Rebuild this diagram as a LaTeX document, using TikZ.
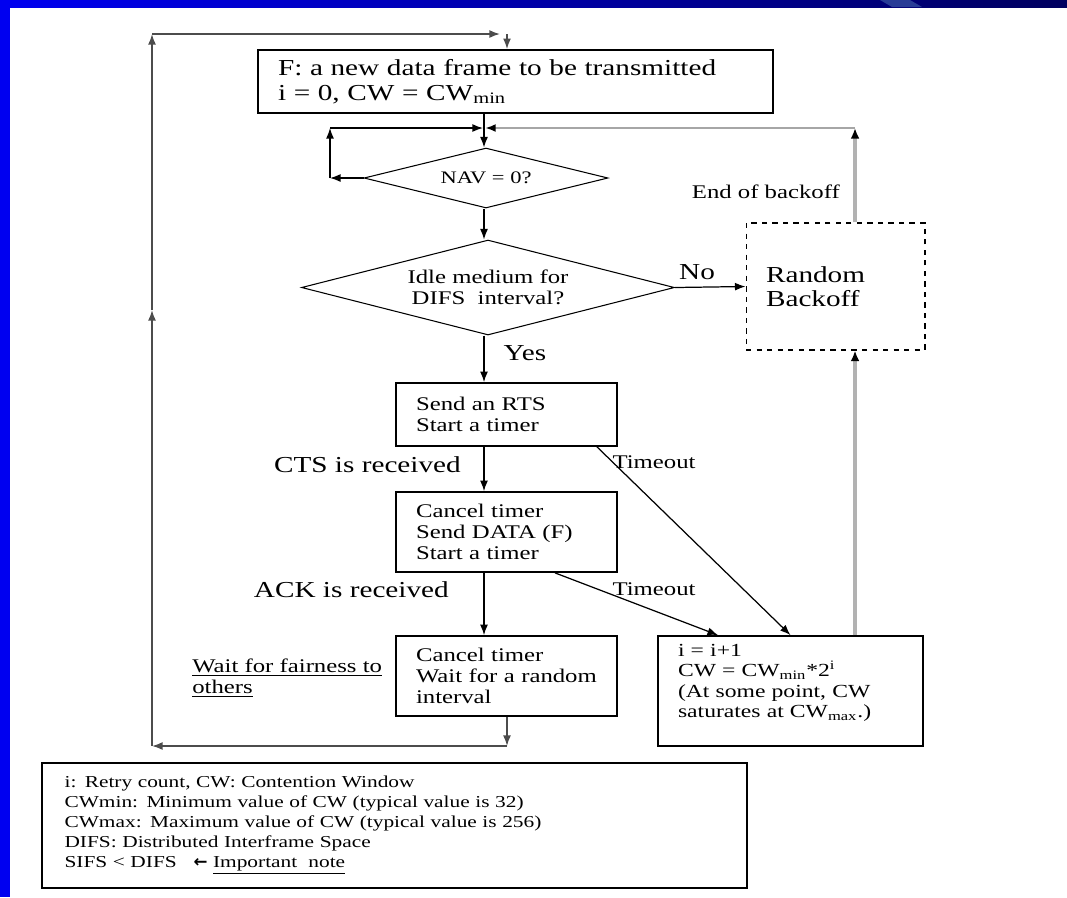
\documentclass[tikz,border=0pt]{standalone}
\usepackage{fontspec}
\setmainfont{Liberation Serif}[FakeStretch=1.28]
\newfontfamily\arrowfont{DejaVu Sans}
\usetikzlibrary{shapes, arrows.meta}

\definecolor{slideblue}{RGB}{0,0,240}
\definecolor{slidenavy}{RGB}{0,0,95}
\definecolor{slidestripe}{RGB}{40,60,150}

\begin{document}
\begin{tikzpicture}[x=0.02cm, y=-0.02cm, >={Latex[length=6pt,width=4.5pt]}]
    \tikzstyle{box}=[draw, line width=1pt, rectangle, align=left, inner xsep=0.4cm, inner ysep=0pt]
    \tikzstyle{dia}=[draw, diamond, line width=0.6pt, inner sep=0pt, align=center]
    \tikzstyle{e}=[->, line width=0.7pt]
    \tikzstyle{loopline}=[->, black!70, line width=0.9pt]
    \tikzstyle{backline}=[-{Latex[length=6pt,width=5pt,color=black]}, black!30, line width=2.4pt]
    \tikzstyle{backthin}=[-{Latex[length=6pt,width=4.5pt,color=black]}, black!35, line width=1.2pt]
    \tikzstyle{big}=[font=\fontsize{13}{14}\selectfont]
    \tikzstyle{small}=[font=\fontsize{11}{12}\selectfont]

    \useasboundingbox (0,0) rectangle (1067,897);

    % slide frame
    \fill[white] (0,0) rectangle (1067,897);
    \shade[left color=slideblue, right color=slidenavy] (0,0) rectangle (1067,7);
    \fill[slidestripe] (880,0) -- (910,0) -- (922,7) -- (892,7) -- cycle;
    \fill[slideblue] (0,0) rectangle (10,897);

    % boxes and tests
    \node[box, big, minimum width=10.3cm, minimum height=1.26cm, text width=9.5cm] (frame) at (515.5,81.5)
        {F: a new data frame to be transmitted\\ i = 0, CW = CW\textsubscript{min}};
    \node[dia, font=\fontsize{10}{11}\selectfont, aspect=4.07, minimum width=4.88cm, minimum height=1.2cm] (nav) at (486,178) {NAV = 0?};
    \node[dia, small, aspect=3.93, minimum width=7.46cm, minimum height=1.9cm] (idle) at (488,287.5)
        {Idle medium for\\ DIFS\ \ interval?};
    \node[box, big, dashed, line width=0.6pt, minimum width=3.58cm, minimum height=2.54cm, text width=2.78cm] (backoff) at (835.5,286.5)
        {Random\\ Backoff};
    \node[box, small, minimum width=4.42cm, minimum height=1.26cm, text width=3.62cm] (rts) at (506.5,414.5)
        {Send an RTS\\ Start a timer};
    \node[box, small, minimum width=4.42cm, minimum height=1.6cm, text width=3.62cm] (cancel) at (506.5,532)
        {Cancel timer\\ Send DATA (F)\\ Start a timer};
    \node[box, small, minimum width=4.42cm, minimum height=1.6cm, text width=3.62cm] (wait) at (506.5,676)
        {Cancel timer\\ Wait for a random\\ interval};
    \node[box, font=\fontsize{10.5}{11.6}\selectfont, minimum width=5.3cm, minimum height=2.2cm, text width=4.5cm] (cw) at (790.5,691)
        {i = i+1\\ CW = CW\textsubscript{min}*2\textsuperscript{i}\\ (At some point, CW\\ saturates at CW\textsubscript{max}.)\\ \mbox{}};
    \node[small, anchor=west, align=left, inner sep=0pt] (fair) at (192,678)
        {\underline{Wait for fairness to}\\ \underline{others}};
    \node[box, font=\fontsize{9.5}{11.4}\selectfont, inner xsep=0.45cm, minimum width=14.1cm, minimum height=2.5cm, text width=13.2cm] (legend) at (394.5,825.5)
        {i: Retry count, CW: Contention Window\\
         CWmin: Minimum value of CW (typical value is 32)\\
         CWmax: Maximum value of CW (typical value is 256)\\
         DIFS: Distributed Interframe Space\\
         SIFS < DIFS\quad{\arrowfont\bfseries ←} \underline{Important\ \ note}};

    % labels
    \node[small, anchor=east] (endlbl) at (846,192) {End of backoff};
    \node[big] (nolbl) at (697,272) {No};
    \node[big] (yeslbl) at (525,353) {Yes};
    \node[big, anchor=east] (ctslbl) at (467,465) {CTS is received};
    \node[big, anchor=east] (acklbl) at (455,590) {ACK is received};
    \node[small] (to1) at (654,462) {Timeout};
    \node[small] (to2) at (654,589) {Timeout};

    % corners of the loops
    \coordinate (j) at (484,128);
    \coordinate (nl) at (330,178);
    \coordinate (nt) at (330,128);
    \coordinate (rc) at (855,128);
    \coordinate (bl) at (507,746);
    \coordinate (ll) at (152,746);
    \coordinate (lm) at (152,310);
    \coordinate (tl) at (152,34);
    \coordinate (tr) at (507,34);

    % main flow
    \draw[line width=0.7pt] (frame.south -| j) -- (j);
    \draw[e] (j) -- (nav.north -| j);
    \draw[e] (nav.west) -- (nl);
    \draw[e] (nl) -- (nt);
    \draw[e, shorten >=0.6pt] (nt) -- (j);
    \draw[e] (nav.south -| j) -- (idle.north -| j);
    \draw[e] (idle.east) -- (backoff.west);
    \draw[e] (idle.south -| j) -- (rts.north -| j);
    \draw[e] (rts.south -| j) -- (cancel.north -| j);
    \draw[e] (cancel.south -| j) -- (wait.north -| j);
    \draw[e] ([xshift=1.81cm]rts.south) -- (cw.north);
    \draw[e] ([xshift=0.97cm]cancel.south) -- ([xshift=-1.45cm]cw.north);

    % back to the channel test
    \draw[backline] (cw.north -| rc) -- (backoff.south -| rc);
    \draw[backline] (backoff.north -| rc) -- (rc);
    \draw[backthin, shorten >=0.6pt] (rc) -- (j);

    % next frame
    \draw[loopline] (wait.south -| bl) -- (bl);
    \draw[loopline] (bl) -- (ll);
    \draw[loopline] (ll) -- (lm);
    \draw[loopline] (lm) -- (tl);
    \draw[loopline] (tl) -- ([xshift=-0.14cm]tr);
    \draw[loopline] (tr) -- (frame.north -| tr);

\end{tikzpicture}
\end{document}
